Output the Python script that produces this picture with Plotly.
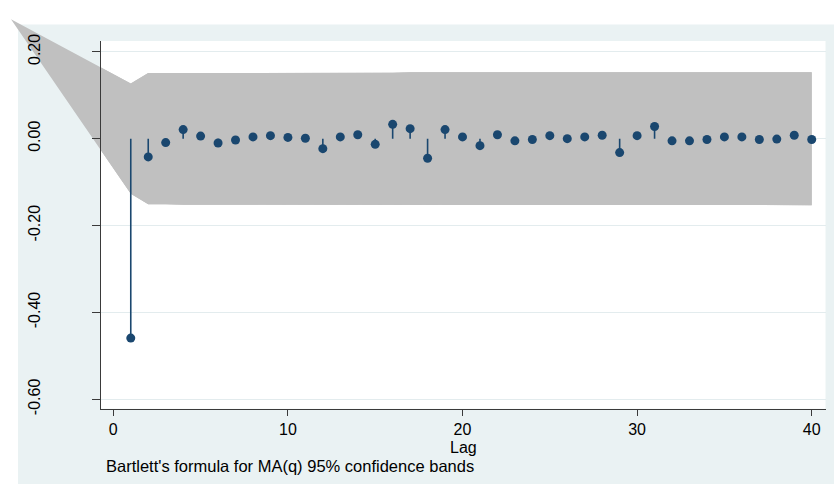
import plotly.graph_objects as go

# ---------------- data ----------------
lags = list(range(1, 41))
acf = [-0.459, -0.042, -0.009, 0.021, 0.006, -0.010, -0.003, 0.004, 0.007, 0.003,
       0.001, -0.023, 0.004, 0.009, -0.013, 0.033, 0.023, -0.045, 0.021, 0.004,
       -0.016, 0.009, -0.005, -0.002, 0.007, 0.000, 0.004, 0.008, -0.032, 0.007,
       0.028, -0.005, -0.005, -0.002, 0.004, 0.004, -0.002, -0.001, 0.008, -0.002]
band = [0.127, 0.151, 0.151, 0.152, 0.152, 0.152, 0.152, 0.152, 0.152, 0.152,
        0.152, 0.152, 0.152, 0.152, 0.152, 0.152, 0.153, 0.153, 0.153, 0.153,
        0.153, 0.153, 0.153, 0.153, 0.153, 0.153, 0.153, 0.153, 0.153, 0.153,
        0.153, 0.153, 0.153, 0.153, 0.153, 0.153, 0.153, 0.153, 0.153, 0.153]
band_anchor_lag = -5.86
band_anchor_value = 0.275
y_ticks = [-0.6, -0.4, -0.2, 0.0, 0.2]
y_tick_labels = ["-0.60", "-0.40", "-0.20", "0.00", "0.20"]
x_ticks = [0, 10, 20, 30, 40]
x_tick_labels = ["0", "10", "20", "30", "40"]
x_title = "Lag"
note = "Bartlett's formula for MA(q) 95% confidence bands"

# ---------------- layout constants ----------------
W, H = 834, 490
NAVY = "#1A476F"
BAND = "#C0C0C0"
BG = "#EAF2F3"
GRID = "#E3ECEE"
FONT = "Liberation Sans, Arial, Helvetica, sans-serif"

xdom = [101 / W, 825.5 / W]
ydom = [1 - 412.7 / H, 1 - 35 / H]
xr = [-0.705, 40.79]
yr = [-0.6217, 0.2247]


def full_range(r, dom):
    scale = (r[1] - r[0]) / (dom[1] - dom[0])
    return [r[0] - dom[0] * scale, r[0] + (1 - dom[0]) * scale]


band_x = [band_anchor_lag] + lags + lags[::-1]
band_y = [band_anchor_value] + band + [-b for b in band[::-1]]

stem_x, stem_y = [], []
for l, v in zip(lags, acf):
    stem_x += [l, l, None]
    stem_y += [0, v, None]

fig = go.Figure()
# band on full-figure axes (so the part outside the plot region shows)
fig.add_trace(go.Scatter(x=band_x, y=band_y, fill="toself", fillcolor=BAND,
                         mode="lines", line=dict(width=0, color=BAND),
                         hoverinfo="skip", showlegend=False,
                         xaxis="x", yaxis="y"))
# band again inside plot region (covers grid lines)
fig.add_trace(go.Scatter(x=band_x, y=band_y, fill="toself", fillcolor=BAND,
                         mode="lines", line=dict(width=0, color=BAND),
                         hoverinfo="skip", showlegend=False,
                         xaxis="x2", yaxis="y2"))
fig.add_trace(go.Scatter(x=stem_x, y=stem_y, mode="lines",
                         line=dict(color=NAVY, width=1.6),
                         showlegend=False, xaxis="x2", yaxis="y2"))
fig.add_trace(go.Scatter(x=lags, y=acf, mode="markers",
                         marker=dict(color=NAVY, size=9, line=dict(width=0)),
                         showlegend=False, xaxis="x2", yaxis="y2"))

fig.update_layout(
    width=W, height=H,
    margin=dict(l=0, r=0, t=0, b=0),
    paper_bgcolor="white",
    plot_bgcolor="rgba(0,0,0,0)",
    font=dict(family=FONT, color="black", size=16),
    showlegend=False,
    xaxis=dict(domain=[0, 1], range=full_range(xr, xdom), visible=False,
               fixedrange=True, anchor="y"),
    yaxis=dict(domain=[0, 1], range=full_range(yr, ydom), visible=False,
               fixedrange=True, anchor="x"),
    xaxis2=dict(domain=xdom, range=xr, anchor="y2", showgrid=False,
                zeroline=False, showline=True, linecolor="#3A3A3A", linewidth=1,
                ticks="outside", ticklen=6, tickwidth=1, tickcolor="#3A3A3A",
                tickvals=x_ticks, ticktext=x_tick_labels,
                tickfont=dict(size=16, family=FONT, color="black")),
    yaxis2=dict(domain=ydom, range=yr, anchor="x2", showgrid=True,
                gridcolor=GRID, gridwidth=1, zeroline=False,
                showline=True, linecolor="#3A3A3A", linewidth=1,
                ticks="outside", ticklen=8, tickwidth=1, tickcolor="#3A3A3A",
                tickvals=y_ticks, ticktext=y_tick_labels, tickangle=-90,
                ticklabelstandoff=46,
                tickfont=dict(size=16, family=FONT, color="black")),
    shapes=[
        dict(type="rect", xref="paper", yref="paper", x0=18 / W, x1=1,
             y0=0, y1=1 - 18 / H, fillcolor=BG, line=dict(width=0),
             layer="below"),
        dict(type="rect", xref="paper", yref="paper", x0=xdom[0], x1=xdom[1],
             y0=ydom[0], y1=ydom[1], fillcolor="white", line=dict(width=0),
             layer="below"),
    ],
    annotations=[
        dict(text=x_title, xref="paper", yref="paper",
             x=(xdom[0] + xdom[1]) / 2, y=1 - 453 / H, xanchor="center",
             yanchor="middle", showarrow=False,
             font=dict(size=16, family=FONT, color="black")),
        dict(text=note, xref="paper", yref="paper", x=104 / W,
             y=1 - 472 / H, xanchor="left", yanchor="middle",
             showarrow=False, font=dict(size=16.5, family=FONT, color="black")),
    ],
)

fig.write_html("out.html")
